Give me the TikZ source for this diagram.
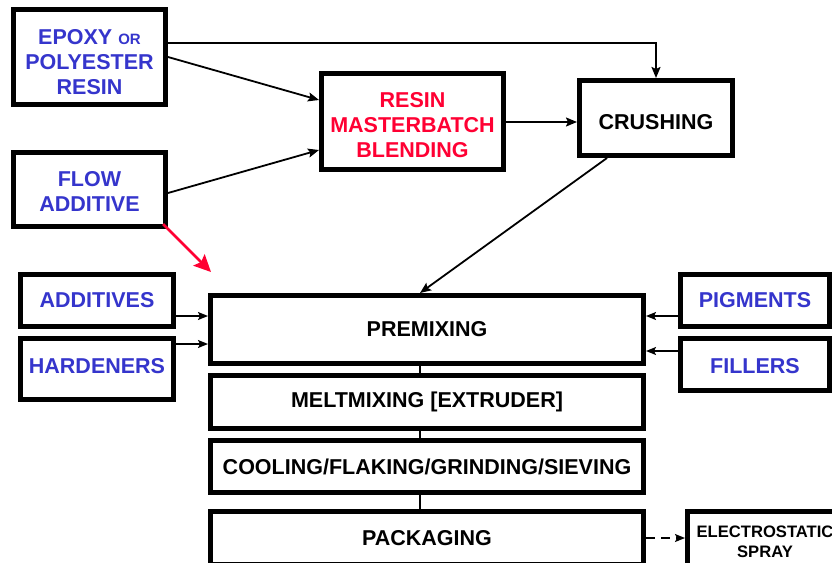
\documentclass[tikz,border=0pt]{standalone}
\usepackage{fontspec}
\setmainfont{Liberation Sans}
\usepackage{xcolor}
\usepackage{tikz}
\usetikzlibrary{arrows.meta}
\definecolor{feedblue}{HTML}{3535CC}
\definecolor{blendred}{HTML}{FF0033}
\definecolor{framegrey}{HTML}{000000}

\begin{document}
\begin{tikzpicture}[
    x=1pt, y=-1pt,
    every node/.style={font=\fontsize{21.5}{25}\selectfont\bfseries, align=center},
    box/.style={draw=framegrey, line width=5pt, fill=white, inner sep=0pt},
    feed/.style={box, text=feedblue},
    stage/.style={box, minimum width=433pt},
    lowtext/.style={text height=#1},
    flow/.style={-{Stealth[length=11pt, width=9pt, inset=2pt]}, line width=1.8pt},
    side/.style={-{Stealth[length=10pt, width=8pt, inset=2pt]}, line width=1.5pt},
    joint/.style={line width=1.5pt},
    hint/.style={-{Stealth[length=17pt, width=16pt, inset=3pt]}, blendred, line width=2.5pt}
  ]
  \clip (0,0) rectangle (832,562);

  % --- upper block : resin preparation ---------------------------------
  \node[feed, lowtext=75.4pt, minimum width=152pt, minimum height=95pt] (resinin) at (89.5,57)
    {EPOXY {\fontsize{15}{25}\selectfont OR}\\POLYESTER\\RESIN};
  \node[feed, lowtext=43.4pt, minimum width=152pt, minimum height=74pt] (flowadd) at (89.5,189.5)
    {FLOW\\ADDITIVE};
  \node[box, lowtext=72.4pt, text=blendred, minimum width=182pt, minimum height=96pt] (blend) at (412.5,121.5)
    {RESIN\\MASTERBATCH\\BLENDING};
  \node[box, lowtext=23.4pt, minimum width=153pt, minimum height=75pt] (crush) at (656,118) {CRUSHING};

  \draw[flow] ([yshift=14pt]resinin.east) -| (crush.north);
  \draw[flow] (resinin.east) -- ([yshift=21.5pt]blend.west);
  \draw[flow] ([yshift=-3.5pt]flowadd.east) -- ([yshift=-28.5pt]blend.west);
  \draw[flow] ([yshift=-0.5pt]blend.east) -- ([yshift=-0.5pt]blend.east -| crush.west);

  % --- lower block : the line itself -----------------------------------
  \node[stage, minimum height=68pt] (premix) at (427,329.5) {PREMIXING};
  \node[stage, minimum height=53pt] (melt)   at (427,402)   {MELTMIXING [EXTRUDER]};
  \node[stage, minimum height=52pt] (cool)   at (427,466.5) {COOLING/FLAKING/GRINDING/SIEVING};
  \node[stage, minimum height=53pt] (pack)   at (427,538)   {PACKAGING};

  \draw[joint] ([xshift=-7pt]premix.south) -- ([xshift=-7pt]melt.north);
  \draw[joint] ([xshift=-7pt]melt.south) -- ([xshift=-7pt]cool.north);
  \draw[joint] ([xshift=-7pt]cool.south) -- ([xshift=-7pt]pack.north);

  \draw[flow] ([xshift=-49pt]crush.south) -- ([xshift=-7pt]premix.north);

  \coordinate (hinttip) at (211,272);
  \draw[hint] ([xshift=-5pt, yshift=5pt]flowadd.south east) -- (hinttip);

  % --- side feeds ---------------------------------------------------------
  \node[feed, minimum width=153pt, minimum height=52pt] (addit) at (97,300.5)  {ADDITIVES};
  \node[feed, lowtext=9.4pt, minimum width=153pt, minimum height=61pt] (hard) at (97,369) {HARDENERS};
  \node[feed, minimum width=149pt, minimum height=52pt] (pigm)  at (755,300.5) {PIGMENTS};
  \node[feed, lowtext=18.4pt, minimum width=149pt, minimum height=52pt] (fill) at (755,364.5) {FILLERS};

  \draw[side] ([yshift=-15.5pt]addit.east) -- ([yshift=-15.5pt]addit.east -| premix.west);
  \draw[side] ([yshift=25pt]hard.east) -- ([yshift=25pt]hard.east -| premix.west);
  \draw[side] ([yshift=-15.5pt]pigm.west) -- ([yshift=-15.5pt]pigm.west -| premix.east);
  \draw[side] ([yshift=13.5pt]fill.west) -- ([yshift=13.5pt]fill.west -| premix.east);

  % --- application --------------------------------------------------------
  \node[box, minimum width=155pt, minimum height=60pt,
        font=\fontsize{16.6}{20}\selectfont\bfseries] (spray) at (765,541.5)
    {ELECTROSTATIC\\SPRAY};
  \draw[side, dashed, dash pattern=on 9pt off 6pt] (pack.east) -- (pack.east -| spray.west);

\end{tikzpicture}
\end{document}
